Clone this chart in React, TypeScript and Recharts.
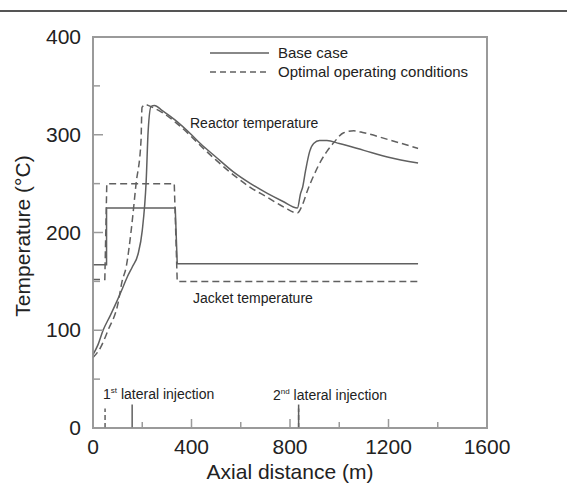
import React from "react";
import { LineChart, Line, XAxis, YAxis, ReferenceArea, Legend } from "recharts";

// axial distance (m) / temperature (°C)
const baseReactorX = [0, 20, 41, 70, 94, 120, 140, 160, 183, 200, 216, 224, 236, 250, 280, 334, 400, 436, 500, 570, 640, 708, 770, 830, 843, 851, 863, 880, 896, 920, 950, 1000, 1100, 1200, 1320];
const baseReactorT = [75, 85, 100, 115, 128, 143, 155, 165, 178, 202, 253, 304, 329, 330, 325, 315, 300, 291, 277, 262, 250, 240, 232, 225, 240, 246, 263, 283, 291, 294, 294, 291, 284, 277, 271];

const optReactorX = [0, 30, 61, 102, 118, 135, 155, 175, 195, 199, 215, 224, 280, 334, 400, 436, 500, 570, 640, 708, 775, 830, 850, 871, 896, 925, 950, 978, 1018, 1059, 1100, 1200, 1320];
const optReactorT = [72, 82, 100, 128, 150, 165, 202, 250, 294, 328, 331, 330, 323, 313, 298, 289, 274, 259, 246, 236, 226, 220, 228, 243, 258, 273, 283, 292, 302, 304, 302, 295, 286];

const baseJacketX = [0, 55, 55, 334, 342, 1320];
const baseJacketT = [167, 167, 225, 225, 168, 168];

const optJacketX = [0, 48, 56, 330, 342, 1320];
const optJacketT = [152, 152, 250, 250, 150, 150];

// lateral injection positions (m) and marker heights
const baseInjections = [159, 835];
const optInjections = [49, 835];
const baseMarkerTop = 24;
const optMarkerTop = 20;

const xTicks = [0, 200, 400, 600, 800, 1000, 1200, 1400, 1600];
const yTicks = [0, 50, 100, 150, 200, 250, 300, 350, 400];

const legendItems = [
  { label: "Base case", dash: undefined },
  { label: "Optimal operating conditions", dash: "6 4" },
];

const toPoints = (xs: number[], ts: number[]) => xs.map((d, i) => ({ d, t: ts[i] }));

const FONT = "'Liberation Sans', Arial, sans-serif";
const INK = "#222";
const FRAME = "#9a9a9a";
const LINE = "#606060";

// ticks point into the plot; minor ticks carry no label
const XTick = (props: any) => {
  const { x, y, payload } = props;
  const major = payload.value % 400 === 0;
  const len = major ? 9 : 6;
  return (
    <g>
      <path d={`M${x},${y}V${y - len}`} stroke={FRAME} strokeWidth={1.5} fill="none" />
      {major && (
        <text x={x} y={y + 26} textAnchor="middle" fontSize={21} fontFamily={FONT} fill={INK}>
          {payload.value}
        </text>
      )}
    </g>
  );
};

const YTick = (props: any) => {
  const { x, y, payload } = props;
  const major = payload.value % 100 === 0;
  const len = major ? 10 : 7;
  return (
    <g>
      <path d={`M${x},${y}H${x + len}`} stroke={FRAME} strokeWidth={1.5} fill="none" />
      {major && (
        <text x={x - 12} y={y + 7} textAnchor="end" fontSize={21} fontFamily={FONT} fill={INK}>
          {payload.value}
        </text>
      )}
    </g>
  );
};

const LegendBox = () => (
  <div style={{ fontFamily: FONT, fontSize: 15, color: INK }}>
    {legendItems.map((it) => (
      <div key={it.label} style={{ display: "flex", alignItems: "center", height: 19 }}>
        <svg width={68} height={10}>
          <line x1={0} x2={59} y1={5} y2={5} stroke={LINE} strokeWidth={1.5} strokeDasharray={it.dash} />
        </svg>
        <span>{it.label}</span>
      </div>
    ))}
  </div>
);

export default function App() {
  const markers = (xs: number[], top: number) => xs.map((d) => [{ d, t: 0 }, { d, t: top }]);
  return (
    <div style={{ position: "absolute", left: 0, top: 0, width: 567, height: 495, background: "#fff" }}>
      <div style={{ position: "absolute", left: 0, top: 10, width: 567, height: 2, background: "#555" }} />
      <LineChart width={567} height={495} margin={{ top: 37, right: 80, bottom: 0, left: 0 }}>
        <XAxis
          dataKey="d"
          type="number"
          domain={[0, 1600]}
          ticks={xTicks}
          interval={0}
          height={67}
          tickSize={0}
          tickMargin={0}
          tickLine={false}
          axisLine={{ stroke: FRAME, strokeWidth: 1.5 }}
          tick={(p: any) => <XTick {...p} />}
        />
        <YAxis
          type="number"
          domain={[0, 400]}
          ticks={yTicks}
          interval={0}
          width={93}
          tickSize={0}
          tickMargin={0}
          tickLine={false}
          axisLine={{ stroke: FRAME, strokeWidth: 1.5 }}
          tick={(p: any) => <YTick {...p} />}
        />
        <ReferenceArea x1={0} x2={1600} y1={0} y2={400} fill="none" stroke={FRAME} strokeWidth={2} />
        <Legend
          content={<LegendBox />}
          layout="vertical"
          verticalAlign="middle"
          align="center"
          wrapperStyle={{ position: "absolute", left: 210, top: 43, width: 290 }}
        />
        <Line data={toPoints(baseJacketX, baseJacketT)} dataKey="t" name="Base jacket" stroke={LINE} strokeWidth={1.5} dot={false} legendType="none" isAnimationActive={false} />
        <Line data={toPoints(optJacketX, optJacketT)} dataKey="t" name="Optimal jacket" stroke={LINE} strokeWidth={1.5} strokeDasharray="7 4" dot={false} legendType="none" isAnimationActive={false} />
        <Line data={toPoints(baseReactorX, baseReactorT)} dataKey="t" name="Base reactor" type="monotone" stroke={LINE} strokeWidth={1.5} dot={false} legendType="none" isAnimationActive={false} />
        <Line data={toPoints(optReactorX, optReactorT)} dataKey="t" name="Optimal reactor" type="monotone" stroke={LINE} strokeWidth={1.5} strokeDasharray="7 4" dot={false} legendType="none" isAnimationActive={false} />
        {markers(baseInjections, baseMarkerTop).map((pts, i) => (
          <Line key={"b" + i} data={pts} dataKey="t" stroke={LINE} strokeWidth={1.5} dot={false} legendType="none" isAnimationActive={false} />
        ))}
        {markers(optInjections, optMarkerTop).map((pts, i) => (
          <Line key={"o" + i} data={pts} dataKey="t" stroke={LINE} strokeWidth={1.5} strokeDasharray="5 3" dot={false} legendType="none" isAnimationActive={false} />
        ))}
      </LineChart>
      <svg width={567} height={495} style={{ position: "absolute", left: 0, top: 0, pointerEvents: "none" }}>
        <g fontFamily={FONT} fill={INK}>
          <text x={190} y={128} fontSize={14}>Reactor temperature</text>
          <text x={193} y={303} fontSize={14}>Jacket temperature</text>
          <text x={103} y={399} fontSize={14}>
            1<tspan fontSize={8} dy={-6}>st</tspan>
            <tspan dy={6}> lateral injection</tspan>
          </text>
          <text x={273} y={400} fontSize={14}>
            2<tspan fontSize={8} dy={-6}>nd</tspan>
            <tspan dy={6}> lateral injection</tspan>
          </text>
          <text x={290} y={479} fontSize={21} textAnchor="middle">Axial distance (m)</text>
          <text x={30} y={236} fontSize={21} textAnchor="middle" transform="rotate(-90 30 236)">
            Temperature (°C)
          </text>
        </g>
      </svg>
    </div>
  );
}
